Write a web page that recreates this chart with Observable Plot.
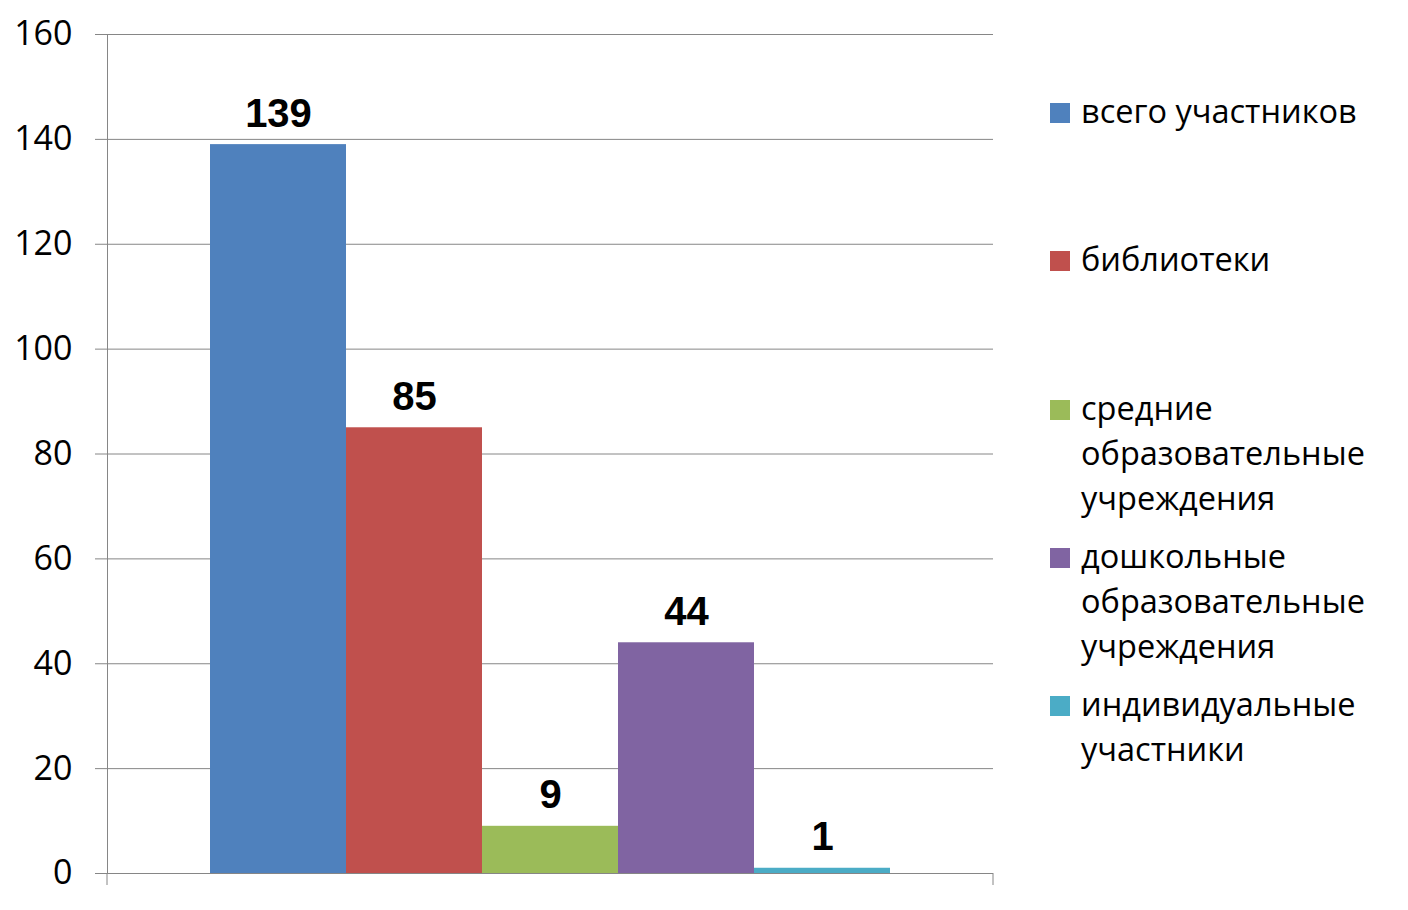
<!DOCTYPE html>
<html>
<head>
<meta charset="utf-8">
<script src="https://cdn.jsdelivr.net/npm/d3@7"></script>
<script src="https://cdn.jsdelivr.net/npm/@observablehq/plot@0.6"></script>
<style>
  html, body { margin: 0; padding: 0; background: #fff; }
  #wrap { position: relative; width: 1408px; height: 910px; overflow: hidden; }
  #legend { position: absolute; left: 1050px; top: 88px; width: 350px;
            font-family: "Open Sans", sans-serif; font-size: 32.5px; line-height: 45px; color: #000; }
  .item { display: flex; align-items: flex-start; height: 148.3px; }
  .sw { width: 20px; height: 20px; flex: none; margin-top: 15px; margin-right: 11px; }
  .lab { width: 310px; }
</style>
</head>
<body>
<div id="wrap"><div id="legend"></div></div>
<script>
const categories = [
  "всего участников",
  "библиотеки",
  "средние образовательные учреждения",
  "дошкольные образовательные учреждения",
  "индивидуальные участники"
];
const values = [139, 85, 9, 44, 1];
const colors = ["#4F81BD", "#C0504D", "#9BBB59", "#8064A2", "#4BACC6"];
const yTicks = [0, 20, 40, 60, 80, 100, 120, 140, 160];

const data = categories.map((name, i) => ({name, value: values[i]}));
const gridColor = "#868686";

const edgeTicks = (index, scales, values, dims) => {
  const g = d3.create("svg:g");
  const y0 = dims.height - dims.marginBottom;
  for (const x of [dims.marginLeft, dims.width - dims.marginRight]) {
    g.append("line").attr("x1", x).attr("x2", x).attr("y1", y0).attr("y2", y0 + 12)
      .attr("stroke", gridColor);
  }
  return g.node();
};

const chart = Plot.plot({
  width: 1408,
  height: 910,
  marginLeft: 107,
  marginRight: 415,
  marginTop: 34,
  marginBottom: 37,
  style: {fontFamily: "'Open Sans', sans-serif", background: "#fff"},
  x: {domain: categories, axis: null, paddingInner: 0, paddingOuter: 0.748},
  y: {domain: [0, 160]},
  color: {domain: categories, range: colors},
  marks: [
    Plot.gridY(yTicks, {stroke: gridColor, strokeOpacity: 1}),
    Plot.axisY(yTicks, {tickSize: 12, tickPadding: 23, stroke: gridColor, fill: "#000",
      fontSize: 34, label: null, tickFormat: d => String(d)}),
    Plot.frame({anchor: "left", stroke: gridColor}),
    edgeTicks,
    Plot.barY(data, {x: "name", y: "value", fill: "name"}),
    Plot.text(data, {x: "name", y: "value", text: d => String(d.value), lineAnchor: "bottom",
      dy: -18, fontSize: 40, fontWeight: "bold", fontFamily: "'Liberation Sans', Arial, sans-serif", fill: "#000"})
  ]
});
document.getElementById("wrap").prepend(chart);

const legend = d3.select("#legend");
categories.forEach((c, i) => {
  const it = legend.append("div").attr("class", "item");
  it.append("div").attr("class", "sw").style("background", colors[i]);
  it.append("div").attr("class", "lab").text(c);
});
</script>
</body>
</html>
